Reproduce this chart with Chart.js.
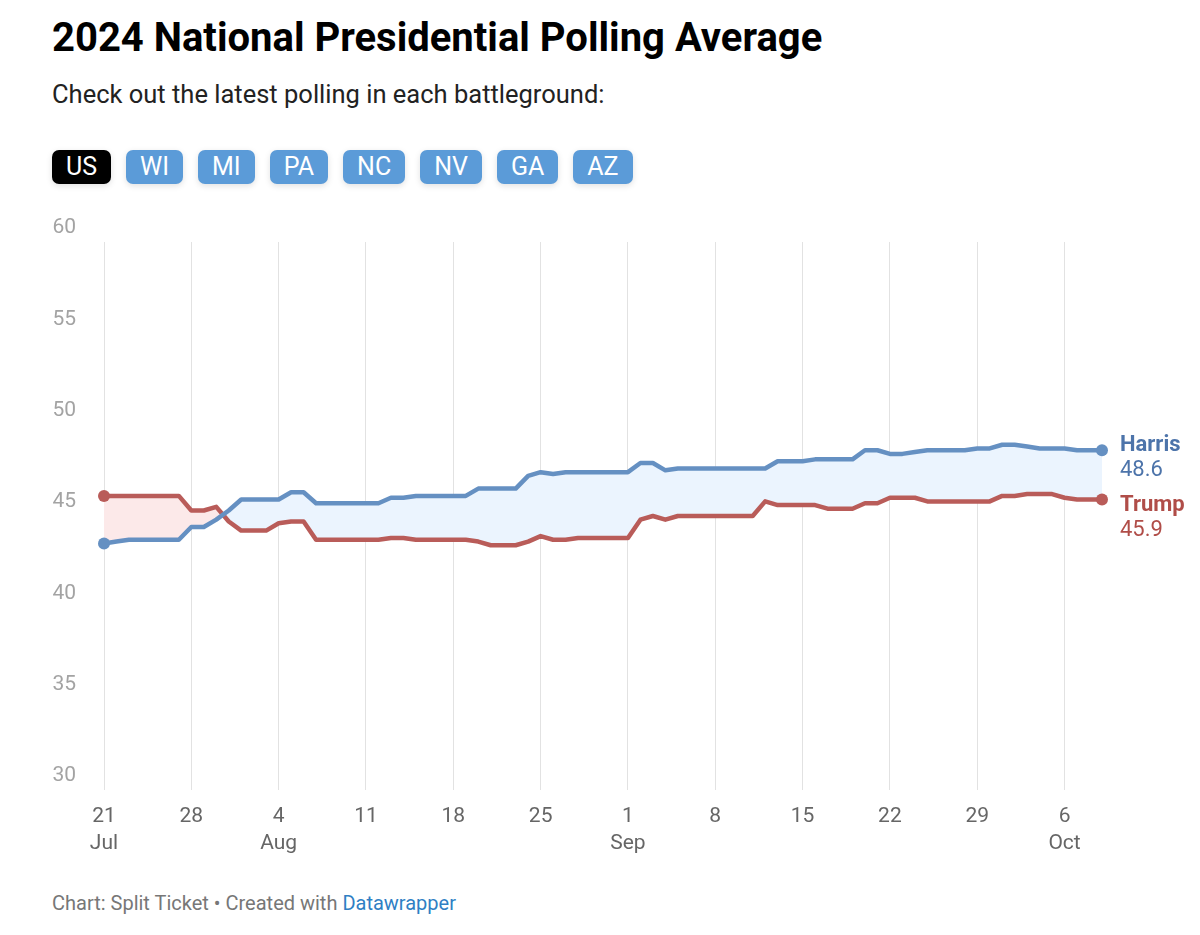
<!DOCTYPE html>
<html>
<head>
<meta charset="utf-8">
<script src="https://cdn.jsdelivr.net/npm/chart.js@4.4.1/dist/chart.umd.min.js"></script>
<style>
    html, body { margin: 0; padding: 0; background: #fff; }
    body { width: 1200px; height: 935px; position: relative; font-family: Roboto, 'Noto Sans', sans-serif; overflow: hidden; }
    h1 { position: absolute; left: 52px; top: 14px; margin: 0; font-size: 40px; font-weight: 700; color: #000; line-height: 48px; }
    .sub { position: absolute; left: 52px; top: 79px; margin: 0; font-size: 25.5px; color: #222; line-height: 30px; }
    .tabs { position: absolute; left: 52px; top: 150px; display: flex; gap: 15px; }
    .tabs span { display: inline-block; height: 34px; line-height: 34px; padding: 0 14px; border-radius: 7px; background: #5b9bd8; color: #fff; font-size: 25px; box-shadow: 0 2px 6px rgba(0,0,0,0.12); }
    .tabs span.on { background: #000; }
    #wrap { position: absolute; left: 0; top: 200px; width: 1200px; height: 660px; }
    .foot { position: absolute; left: 52px; top: 891px; font-size: 20px; color: #777; }
    .foot a { color: #2f7fc4; text-decoration: none; }
</style>
</head>
<body>
<h1>2024 National Presidential Polling Average</h1>
<p class="sub">Check out the latest polling in each battleground:</p>
<div class="tabs"><span class="on">US</span><span>WI</span><span>MI</span><span>PA</span><span>NC</span><span>NV</span><span>GA</span><span>AZ</span></div>
<div id="wrap"><canvas id="pollChart"></canvas></div>
<div class="foot">Chart: Split Ticket • Created with <a>Datawrapper</a></div>

<script>
// daily averages, Jul 21 -> Oct 9
const harris = [
    43.5, 43.6, 43.7, 43.7, 43.7, 43.7, 43.7, 44.4, 44.4, 44.8,
    45.3, 45.9, 45.9, 45.9, 45.9, 46.3, 46.3, 45.7, 45.7, 45.7,
    45.7, 45.7, 45.7, 46.0, 46.0, 46.1, 46.1, 46.1, 46.1, 46.1,
    46.5, 46.5, 46.5, 46.5, 47.2, 47.4, 47.3, 47.4, 47.4, 47.4,
    47.4, 47.4, 47.4, 47.9, 47.9, 47.5, 47.6, 47.6, 47.6, 47.6,
    47.6, 47.6, 47.6, 47.6, 48.0, 48.0, 48.0, 48.1, 48.1, 48.1,
    48.1, 48.6, 48.6, 48.4, 48.4, 48.5, 48.6, 48.6, 48.6, 48.6,
    48.7, 48.7, 48.9, 48.9, 48.8, 48.7, 48.7, 48.7, 48.6, 48.6,
    48.6
];
const trump = [
    46.1, 46.1, 46.1, 46.1, 46.1, 46.1, 46.1, 45.3, 45.3, 45.5,
    44.7, 44.2, 44.2, 44.2, 44.6, 44.7, 44.7, 43.7, 43.7, 43.7,
    43.7, 43.7, 43.7, 43.8, 43.8, 43.7, 43.7, 43.7, 43.7, 43.7,
    43.6, 43.4, 43.4, 43.4, 43.6, 43.9, 43.7, 43.7, 43.8, 43.8,
    43.8, 43.8, 43.8, 44.8, 45.0, 44.8, 45.0, 45.0, 45.0, 45.0,
    45.0, 45.0, 45.0, 45.8, 45.6, 45.6, 45.6, 45.6, 45.4, 45.4,
    45.4, 45.7, 45.7, 46.0, 46.0, 46.0, 45.8, 45.8, 45.8, 45.8,
    45.8, 45.8, 46.1, 46.1, 46.2, 46.2, 46.2, 46.0, 45.9, 45.9,
    45.9
];
const tickDays = [0, 7, 14, 21, 28, 35, 42, 49, 56, 63, 70, 77];
const tickLabels = [['21', 'Jul'], '28', ['4', 'Aug'], '11', '18', '25', ['1', 'Sep'], '8', '15', '22', '29', ['6', 'Oct']];
const yTicks = [30, 35, 40, 45, 50, 55, 60];
const seriesNames = ['Harris', 'Trump'];
const seriesLabels = ['48.6', '45.9'];

const blue = '#6590c2';
const red = '#b95c59';
const blueText = '#4d74aa';
const redText = '#b04d48';

const lastIdx = harris.length - 1;
const endDots = harris.map((v, i) => (i === 0 || i === lastIdx) ? 6 : 0);

// Harris / Trump labels next to the end dots
const endLabels = {
    id: 'endLabels',
    afterDatasetsDraw(chart) {
        const ctx = chart.ctx;
        const colors = [blueText, redText];
        const shifts = [[-5, 20], [6, 31]];
        ctx.save();
        ctx.textAlign = 'left';
        ctx.textBaseline = 'middle';
        seriesNames.forEach((name, i) => {
            const pt = chart.getDatasetMeta(i).data[lastIdx];
            const x = pt.x + 18;
            ctx.fillStyle = colors[i];
            ctx.font = 'bold 22px Roboto';
            ctx.fillText(name, x, pt.y + shifts[i][0]);
            ctx.font = '22px Roboto';
            ctx.fillText(seriesLabels[i], x, pt.y + shifts[i][1]);
        });
        ctx.restore();
    }
};

const ctx = document.getElementById('pollChart').getContext('2d');
new Chart(ctx, {
    type: 'line',
    data: {
        datasets: [
            {
                label: 'Harris',
                data: harris.map((v, i) => ({ x: i, y: v })),
                borderColor: blue,
                backgroundColor: blue,
                borderWidth: 4.5,
                borderJoinStyle: 'round',
                borderCapStyle: 'round',
                pointRadius: endDots,
                pointBackgroundColor: blue,
                pointBorderWidth: 0,
                tension: 0,
                clip: 12,
                fill: { target: 1, above: '#ebf4fe', below: '#fce9e9' }
            },
            {
                label: 'Trump',
                data: trump.map((v, i) => ({ x: i, y: v })),
                borderColor: red,
                backgroundColor: red,
                borderWidth: 4.5,
                borderJoinStyle: 'round',
                borderCapStyle: 'round',
                pointRadius: endDots,
                pointBackgroundColor: red,
                pointBorderWidth: 0,
                tension: 0,
                clip: 12,
                fill: false
            }
        ]
    },
    options: {
        responsive: true,
        maintainAspectRatio: false,
        animation: false,
        layout: { padding: { top: 42, right: 98, left: 0, bottom: 0 } },
        plugins: {
            legend: { display: false },
            tooltip: { enabled: false },
            filler: { drawTime: 'beforeDatasetsDraw' }
        },
        scales: {
            x: {
                type: 'linear',
                min: 0,
                max: lastIdx,
                afterBuildTicks: scale => { scale.ticks = tickDays.map(v => ({ value: v })); },
                afterFit: scale => { scale.height = 70; },
                grid: { color: '#e2e2e2', lineWidth: 1, drawTicks: false },
                border: { display: false },
                ticks: {
                    color: '#666',
                    padding: 13,
                    maxRotation: 0,
                    autoSkip: false,
                    font: { family: 'Roboto', size: 21, lineHeight: 1.3 },
                    callback: value => tickLabels[tickDays.indexOf(value)]
                }
            },
            y: {
                min: 30,
                max: 60,
                afterBuildTicks: scale => { scale.ticks = yTicks.map(v => ({ value: v })); },
                afterFit: scale => { scale.width = 104; },
                grid: { display: false, drawTicks: false },
                border: { display: false },
                ticks: {
                    color: '#a3a3a3',
                    padding: 28,
                    labelOffset: -14,
                    font: { family: 'Roboto', size: 21 }
                }
            }
        }
    },
    plugins: [endLabels]
});
</script>
</body>
</html>
